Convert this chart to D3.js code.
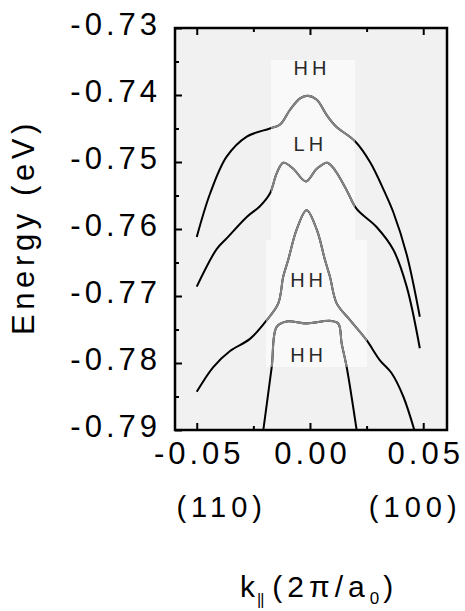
<!DOCTYPE html>
<html>
<head>
<meta charset="utf-8">
<script src="https://cdn.jsdelivr.net/npm/d3@7"></script>
<style>
  body { margin: 0; background: #fff; }
  svg text { font-family: "Liberation Sans", Arial, sans-serif; fill: #000; }
  .axis path { display: none; }
  .axis line { stroke: #000; stroke-width: 2px; }
  .curve { fill: none; stroke: #000; stroke-width: 2px; }
  .curve-in { fill: none; stroke: #858585; stroke-width: 2px; }
  .band { font-size: 20px; fill: #2a2a2a; letter-spacing: 4px; }
</style>
</head>
<body>
<div id="chart"></div>
<script>
// frame and layout
var W = 465, H = 611
var pLeft = 175, pRight = 447, pTop = 28, pBottom = 430

// axis ticks
var yTicks = [-0.79, -0.78, -0.77, -0.76, -0.75, -0.74, -0.73]
var yMinor = [-0.785, -0.775, -0.765, -0.755, -0.745, -0.735]
var xTicks = [-0.05, 0.00, 0.05]
var xMinor = [-0.025, 0.025]
var xDirs = ["(110)", "(100)"]

// band dispersion curves, [k, E]
var hhTop = [[-0.050,-0.7612],[-0.0441,-0.7547],[-0.0368,-0.7492],[-0.0279,-0.7462],[-0.0177,-0.7450],
  [-0.0132,-0.7444],[-0.0088,-0.7422],[-0.0044,-0.7405],[-0.0012,-0.7401],[0.003,-0.7407],[0.0074,-0.7430],
  [0.0115,-0.7447],[0.0199,-0.7469],[0.0265,-0.7500],[0.0330,-0.7545],[0.0368,-0.7575],[0.0427,-0.7638],[0.0485,-0.7731]]
var lh = [[-0.050,-0.7686],[-0.0412,-0.7630],[-0.0368,-0.7614],[-0.0279,-0.7582],[-0.0221,-0.7566],[-0.0177,-0.7547],
  [-0.0147,-0.7517],[-0.0118,-0.7501],[-0.0074,-0.7510],[-0.0018,-0.7529],[0.0030,-0.7510],[0.0076,-0.7501],
  [0.0110,-0.7512],[0.0162,-0.7542],[0.0206,-0.7570],[0.0294,-0.7597],[0.0368,-0.7631],[0.0427,-0.7686],[0.0485,-0.7778]]
var hhMid = [[-0.050,-0.7843],[-0.0427,-0.7806],[-0.0353,-0.7782],[-0.0265,-0.7764],[-0.0191,-0.7736],[-0.0140,-0.7711],
  [-0.0118,-0.7671],[-0.0096,-0.7646],[-0.0059,-0.7601],[-0.0015,-0.7572],[0.0030,-0.7601],[0.0066,-0.7646],
  [0.0088,-0.7671],[0.0118,-0.7711],[0.0177,-0.7736],[0.0250,-0.7766],[0.0309,-0.7796],[0.0360,-0.7815],
  [0.0412,-0.7850],[0.0465,-0.7905]]
var hhLow = [[-0.0206,-0.7900],[-0.0169,-0.7806],[-0.0147,-0.7746],[-0.0103,-0.7738],[-0.0015,-0.7741],
  [0.0088,-0.7737],[0.0125,-0.7741],[0.0140,-0.7771],[0.0162,-0.7806],[0.0206,-0.7900]]
var curves = [hhTop, lh, hhMid, hhLow]

// band labels, [k, E, text]
var bandLabels = [[0.0000,-0.7363,"HH"],[-0.0007,-0.7475,"LH"],[-0.0015,-0.7679,"HH"],[-0.0015,-0.7791,"HH"]]

var fmt = d => d3.format(".2f")(d).replace("−", "-")

var svg = d3.select("#chart").append("svg")
  .attr("width", W)
  .attr("height", H)

var x = d3.scaleLinear().domain([-0.0596, 0.0605]).range([pLeft, pRight])
var y = d3.scaleLinear().domain([-0.79, -0.73]).range([pBottom, pTop])

svg.append("clipPath").attr("id", "plot")
  .append("rect").attr("x", pLeft).attr("y", pTop).attr("width", pRight - pLeft).attr("height", pBottom - pTop)

// whiter pasted patch over the middle of the scan
var patch = "M271,60H355V240H367V367H266V240H271Z"
svg.append("clipPath").attr("id", "patch").append("path").attr("d", patch)

svg.append("rect")
  .attr("x", pLeft).attr("y", pTop).attr("width", pRight - pLeft).attr("height", pBottom - pTop)
  .attr("fill", "#f1f1f1")
svg.append("path").attr("d", patch).attr("fill", "#f9f9f9")

var line = d3.line()
  .x(d => x(d[0]))
  .y(d => y(d[1]))
  .curve(d3.curveCatmullRom.alpha(0.5))

var g = svg.append("g").attr("clip-path", "url(#plot)")
g.selectAll(".curve").data(curves).enter().append("path")
  .attr("class", "curve")
  .attr("d", line)
svg.append("g").attr("clip-path", "url(#patch)")
  .selectAll(".curve-in").data(curves).enter().append("path")
  .attr("class", "curve-in")
  .attr("d", line)

svg.selectAll(".band").data(bandLabels).enter().append("text")
  .attr("class", "band")
  .attr("x", d => x(d[0]) + 2)
  .attr("y", d => y(d[1]))
  .attr("text-anchor", "middle")
  .attr("dominant-baseline", "middle")
  .text(d => d[2])

// axes
var yAxis = svg.append("g").attr("class", "axis")
  .attr("transform", "translate(" + pLeft + ",0)")
  .call(d3.axisLeft(y).tickValues(yTicks).tickSize(-7).tickPadding(14).tickFormat(fmt))
yAxis.selectAll("text")
  .style("font-size", "31px").style("letter-spacing", "4px")
  .attr("dy", "0.22em")
svg.append("g").attr("class", "axis")
  .attr("transform", "translate(" + pLeft + ",0)")
  .call(d3.axisLeft(y).tickValues(yMinor).tickSize(-4).tickFormat(""))

var xAxis = svg.append("g").attr("class", "axis")
  .attr("transform", "translate(0," + pBottom + ")")
  .call(d3.axisBottom(x).tickValues(xTicks).tickSize(-7).tickPadding(12).tickFormat(fmt))
xAxis.selectAll("text")
  .style("font-size", "31px").style("letter-spacing", "4px")
  .attr("dx", "2px")
svg.append("g").attr("class", "axis")
  .attr("transform", "translate(0," + pBottom + ")")
  .call(d3.axisBottom(x).tickValues(xMinor).tickSize(-4).tickFormat(""))
svg.append("g").attr("class", "axis")
  .attr("transform", "translate(0," + pTop + ")")
  .call(d3.axisTop(x).tickValues(xTicks).tickSize(-7).tickFormat(""))
svg.append("g").attr("class", "axis")
  .attr("transform", "translate(0," + pTop + ")")
  .call(d3.axisTop(x).tickValues(xMinor).tickSize(-4).tickFormat(""))

// frame
svg.append("rect")
  .attr("x", pLeft).attr("y", pTop).attr("width", pRight - pLeft).attr("height", pBottom - pTop)
  .attr("fill", "none").attr("stroke", "#000").attr("stroke-width", 2.5)

// direction labels under the outer ticks
svg.selectAll(".dir").data(xDirs).enter().append("text")
  .attr("class", "dir")
  .attr("x", (d, i) => i == 0 ? x(xTicks[0]) + 25 : x(xTicks[2]) - 8)
  .attr("y", 517)
  .attr("text-anchor", "middle")
  .style("font-size", "29px").style("letter-spacing", "5px")
  .text(d => d)

// axis titles
svg.append("text")
  .attr("transform", "translate(34,227) rotate(-90)")
  .attr("text-anchor", "middle")
  .style("font-size", "31px").style("letter-spacing", "4.6px")
  .text("Energy (eV)")

var xt = svg.append("text")
  .attr("x", 240).attr("y", 597)
  .style("font-size", "30px")
xt.append("tspan").text("k")
xt.append("tspan").attr("dy", 8).attr("dx", 2).style("font-size", "16px").style("letter-spacing", "-1px").text("||")
xt.append("tspan").attr("dy", -8).attr("dx", 9).style("letter-spacing", "5px").text("(2π/a")
xt.append("tspan").attr("dy", 7).attr("dx", 0).style("font-size", "17px").text("0")
xt.append("tspan").attr("dy", -7).attr("dx", 4).text(")")
</script>
</body>
</html>
